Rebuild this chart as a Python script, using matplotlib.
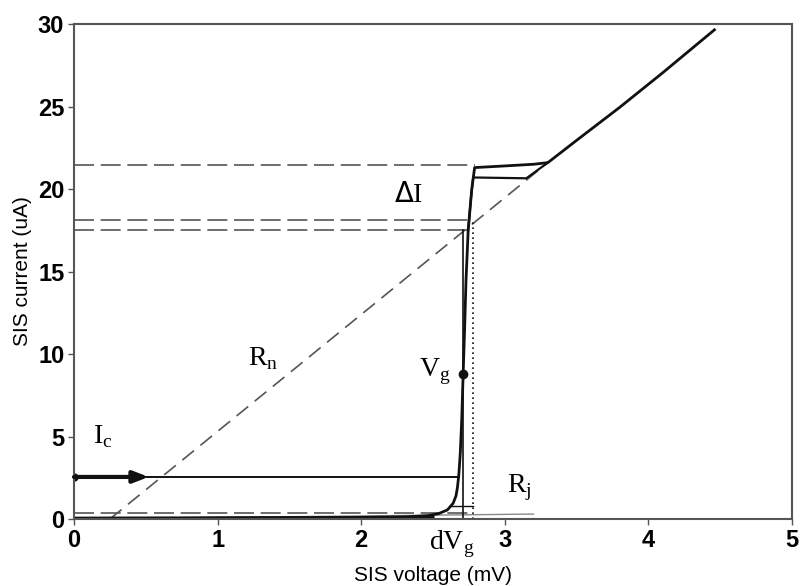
import matplotlib
matplotlib.use("Agg")
import matplotlib.pyplot as plt
import numpy as np

# main I-V trace (mV, uA)
iv_v = [0.0, 1.0, 2.0, 2.3, 2.46, 2.54, 2.6, 2.64, 2.66, 2.67, 2.68, 2.69,
        2.70, 2.71, 2.72, 2.73, 2.745, 2.77, 2.79, 3.0, 3.2, 3.3, 3.5, 3.8,
        4.1, 4.46]
iv_i = [0.0, 0.05, 0.1, 0.13, 0.2, 0.33, 0.55, 0.95, 1.4, 1.9, 2.7, 4.0,
        6.0, 8.8, 11.5, 14.5, 17.5, 20.0, 21.3, 21.4, 21.5, 21.6, 22.95, 24.95,
        27.05, 29.65]
# lower branch above the gap
br_v = [2.745, 2.765, 2.78, 3.15, 3.3]
br_i = [17.5, 19.5, 20.7, 20.65, 21.6]

# dashed guides: (level uA, end mV)
hlev = [21.45, 18.15, 17.5, 0.35]
hend = [2.79, 2.78, 2.74, 2.75]
rn_v = [0.25, 3.3]
rn_i = [0.0, 21.6]
rj_v = [0.0, 3.2]
rj_i = [0.0, 0.3]

ic = 2.55
vg = (2.71, 8.8)
v_vert = 2.71     # thin vertical to 17.5 uA
v_dot = 2.78      # dotted vertical to 18.15 uA

fig = plt.figure(figsize=(8, 5.86), dpi=100)
ax = fig.add_axes([0.0925, 0.1143, 0.8975, 0.8447])

ink = "#111111"
for lev, end in zip(hlev, hend):
    ax.plot([0, end], [lev, lev], ls=(0, (12, 4)), lw=1.2, color="#555555")
ax.plot(rn_v, rn_i, ls=(0, (9, 5)), lw=1.2, color="#555555")
ax.plot(rj_v, rj_i, lw=1.0, color="#888888")

ax.plot(iv_v, iv_i, color=ink, lw=2.0)
ax.plot(br_v, br_i, color=ink, lw=1.6)
ax.plot([0, 2.68], [ic, ic], color=ink, lw=1.4)
ax.plot([v_vert, v_vert], [0, 17.5], color=ink, lw=1.2)
ax.plot([v_dot, v_dot], [0, 18.15], color=ink, lw=1.2, ls=(0, (1, 2)))
ax.plot([2.62, 2.78], [0.8, 0.8], color=ink, lw=1.0)
ax.plot([0, 2.5], [0.05, 0.1], color=ink, lw=2.2)

ax.annotate("", xy=(0.52, ic), xytext=(0.0, ic),
            arrowprops=dict(arrowstyle="-|>,head_length=0.9,head_width=0.35",
                            lw=3, color=ink, shrinkA=0, shrinkB=0))
ax.plot([0], [ic], "o", ms=5, color=ink)
ax.plot([vg[0]], [vg[1]], "o", ms=6, color=ink)

serif = ["Liberation Serif", "DejaVu Serif"]
ax.text(0.2, 5.0, r"I$_\mathregular{c}$", fontsize=20, family=serif, ha="center", va="center")
ax.text(1.32, 9.75, r"R$_\mathregular{n}$", fontsize=20, family=serif, ha="center", va="center")
ax.text(2.51, 8.9, r"V$_\mathregular{g}$", fontsize=20, family=serif, ha="center", va="center")
ax.text(2.33, 19.6, r"$\Delta$I", fontsize=20, family=serif, ha="center", va="center")
ax.text(3.1, 1.9, r"R$_\mathregular{j}$", fontsize=20, family=serif, ha="center", va="center")
ax.text(2.63, -0.05, r"dV$_\mathregular{g}$", fontsize=20, family=serif, ha="center",
        va="center", transform=ax.get_xaxis_transform())

ax.set_xlim(0, 5)
ax.set_ylim(0, 30)
ax.set_xticks(range(0, 6))
ax.set_yticks(range(0, 31, 5))
sans = ["Liberation Sans", "DejaVu Sans"]
for lab in ax.get_xticklabels() + ax.get_yticklabels():
    lab.set_family(sans)
    lab.set_fontsize(17)
    lab.set_fontweight("bold")
ax.tick_params(length=4, width=1, color="#555555", pad=3)
ax.set_xlabel("SIS voltage (mV)", family=sans, fontsize=15, labelpad=10)
ax.set_ylabel("SIS current (uA)", family=sans, fontsize=15, labelpad=4)
for s in ax.spines.values():
    s.set_color("#555555")
    s.set_linewidth(1.5)

fig.savefig("out.png", dpi=100)
